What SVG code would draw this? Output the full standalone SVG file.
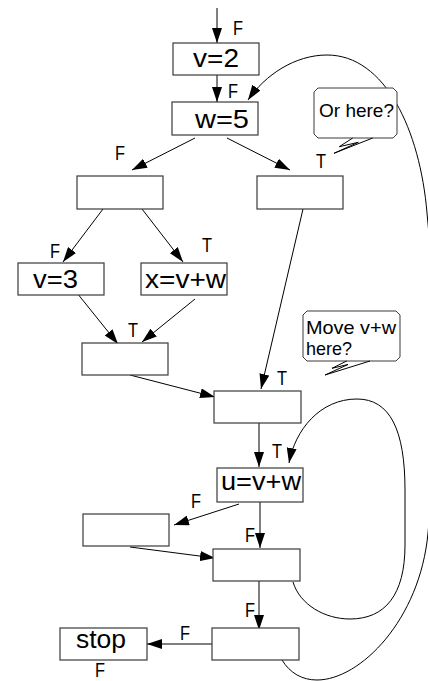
<svg xmlns="http://www.w3.org/2000/svg" width="428" height="681" viewBox="0 0 428 681">
<style>
.box{fill:#fff;stroke:#3a3a3a;stroke-width:1.2}
.bub{fill:#fff;stroke:#3a3a3a;stroke-width:1}
.ln{fill:none;stroke:#000;stroke-width:1}
.arr{marker-end:url(#ah)}
.t{font-family:"Liberation Sans",Arial,sans-serif;fill:#000}
.node{font-size:25px}
.lab{font-size:20px}
.bt{font-size:19px}
</style>
<defs>
<marker id="ah" markerUnits="userSpaceOnUse" markerWidth="15" markerHeight="10" refX="15" refY="5" orient="auto">
<path d="M0,0 L15,5 L0,10 z" fill="#000"/>
</marker>
</defs>
<rect width="428" height="681" fill="#fff"/>
<g id="connectors">
<line class="ln arr" x1="217" y1="8" x2="217" y2="43"/>
<line class="ln arr" x1="217" y1="75" x2="217" y2="102"/>
<line class="ln arr" x1="195" y1="138" x2="132" y2="170"/>
<line class="ln arr" x1="227" y1="138" x2="290" y2="170"/>
<line class="ln arr" x1="103" y1="209" x2="63" y2="262"/>
<line class="ln arr" x1="142" y1="209" x2="183" y2="262"/>
<line class="ln arr" x1="77" y1="293" x2="118" y2="344"/>
<line class="ln arr" x1="195" y1="299" x2="142" y2="342"/>
<line class="ln arr" x1="130" y1="375" x2="215" y2="397"/>
<line class="ln arr" x1="303" y1="209" x2="261" y2="389"/>
<line class="ln arr" x1="259" y1="423" x2="259" y2="467"/>
<line class="ln arr" x1="239" y1="504" x2="174" y2="525"/>
<line class="ln arr" x1="260" y1="502" x2="260" y2="548"/>
<line class="ln arr" x1="130" y1="547" x2="215" y2="558"/>
<line class="ln arr" x1="259" y1="580" x2="259" y2="630"/>
<line class="ln arr" x1="212" y1="644" x2="147" y2="644"/>
<path class="ln arr" d="M293,582 C300,605 325,619 350,619 C385,619 405,595 405,545 L405,490 C405,430 390,399 357,399 C320,399 295,430 289,463"/>
<path class="ln arr" d="M282,660 C290,673 302,680 317,680 C360,680 420,620 428,533 C436,450 436,300 427,213 C420,130 385,55 327,55 C295,55 265,75 248,100"/>
</g>
<g id="labels" class="t lab">
<text x="233" y="35" textLength="10" lengthAdjust="spacingAndGlyphs">F</text>
<text x="228" y="98" textLength="10" lengthAdjust="spacingAndGlyphs">F</text>
<text x="115" y="160" textLength="10" lengthAdjust="spacingAndGlyphs">F</text>
<text x="316" y="168" textLength="10" lengthAdjust="spacingAndGlyphs">T</text>
<text x="50" y="258" textLength="10" lengthAdjust="spacingAndGlyphs">F</text>
<text x="202" y="252" textLength="10" lengthAdjust="spacingAndGlyphs">T</text>
<text x="128" y="337" textLength="10" lengthAdjust="spacingAndGlyphs">T</text>
<text x="277" y="385" textLength="10" lengthAdjust="spacingAndGlyphs">T</text>
<text x="272" y="458" textLength="10" lengthAdjust="spacingAndGlyphs">T</text>
<text x="191" y="508" textLength="10" lengthAdjust="spacingAndGlyphs">F</text>
<text x="245" y="542" textLength="10" lengthAdjust="spacingAndGlyphs">F</text>
<text x="245" y="617" textLength="10" lengthAdjust="spacingAndGlyphs">F</text>
<text x="180" y="640" textLength="10" lengthAdjust="spacingAndGlyphs">F</text>
<text x="95" y="677" textLength="10" lengthAdjust="spacingAndGlyphs">F</text>
</g>
<g id="n_v2"><rect class="box" x="173" y="43" width="86" height="32"/><text class="t node" x="193" y="67" textLength="46" lengthAdjust="spacingAndGlyphs">v=2</text></g>
<g id="n_w5"><rect class="box" x="172" y="102" width="86" height="33"/><text class="t node" x="195" y="128" textLength="54" lengthAdjust="spacingAndGlyphs">w=5</text></g>
<g id="n_left"><rect class="box" x="77" y="176" width="86" height="33"/></g>
<g id="n_right"><rect class="box" x="257" y="176" width="86" height="33"/></g>
<g id="n_v3"><rect class="box" x="18" y="263" width="86" height="32"/><text class="t node" x="33" y="288" textLength="45" lengthAdjust="spacingAndGlyphs">v=3</text></g>
<g id="n_xvw"><rect class="box" x="141" y="263" width="86" height="32"/><text class="t node" x="145" y="288" textLength="81" lengthAdjust="spacingAndGlyphs">x=v+w</text></g>
<g id="n_join1"><rect class="box" x="82" y="343" width="86" height="32"/></g>
<g id="n_join2"><rect class="box" x="214" y="391" width="87" height="32"/></g>
<g id="n_uvw"><rect class="box" x="217" y="468" width="86" height="34"/><text class="t node" x="221" y="490" textLength="80" lengthAdjust="spacingAndGlyphs">u=v+w</text></g>
<g id="n_mid"><rect class="box" x="83" y="514" width="86" height="32"/></g>
<g id="n_join3"><rect class="box" x="213" y="549" width="87" height="32"/></g>
<g id="n_last"><rect class="box" x="212" y="628" width="87" height="32"/></g>
<g id="n_stop"><rect class="box" x="60" y="628" width="87" height="32"/><text class="t node" x="76" y="648" textLength="50" lengthAdjust="spacingAndGlyphs">stop</text></g>
<g id="bubble_or">
<path class="bub" d="M318,88 L393,88 L397,92 L397,134 L393,138 L318,138 L314,134 L314,92 Z"/>
<polyline class="ln" points="352.7,138 339.3,146.7 358.3,142.3 334,153.3 372.7,138"/>
<text class="t bt" x="319" y="117" textLength="75" lengthAdjust="spacingAndGlyphs">Or here?</text>
</g>
<g id="bubble_move">
<path class="bub" d="M307,311 L396,311 L400,315 L400,357 L396,361 L307,361 L303,357 L303,315 Z"/>
<polyline class="ln" points="346.7,361 332,368.3 348,364.5 325,375 370,361"/>
<text class="t bt" x="306" y="334" textLength="90" lengthAdjust="spacingAndGlyphs">Move v+w</text>
<text class="t bt" x="306" y="355" textLength="46" lengthAdjust="spacingAndGlyphs">here?</text>
</g>
</svg>
